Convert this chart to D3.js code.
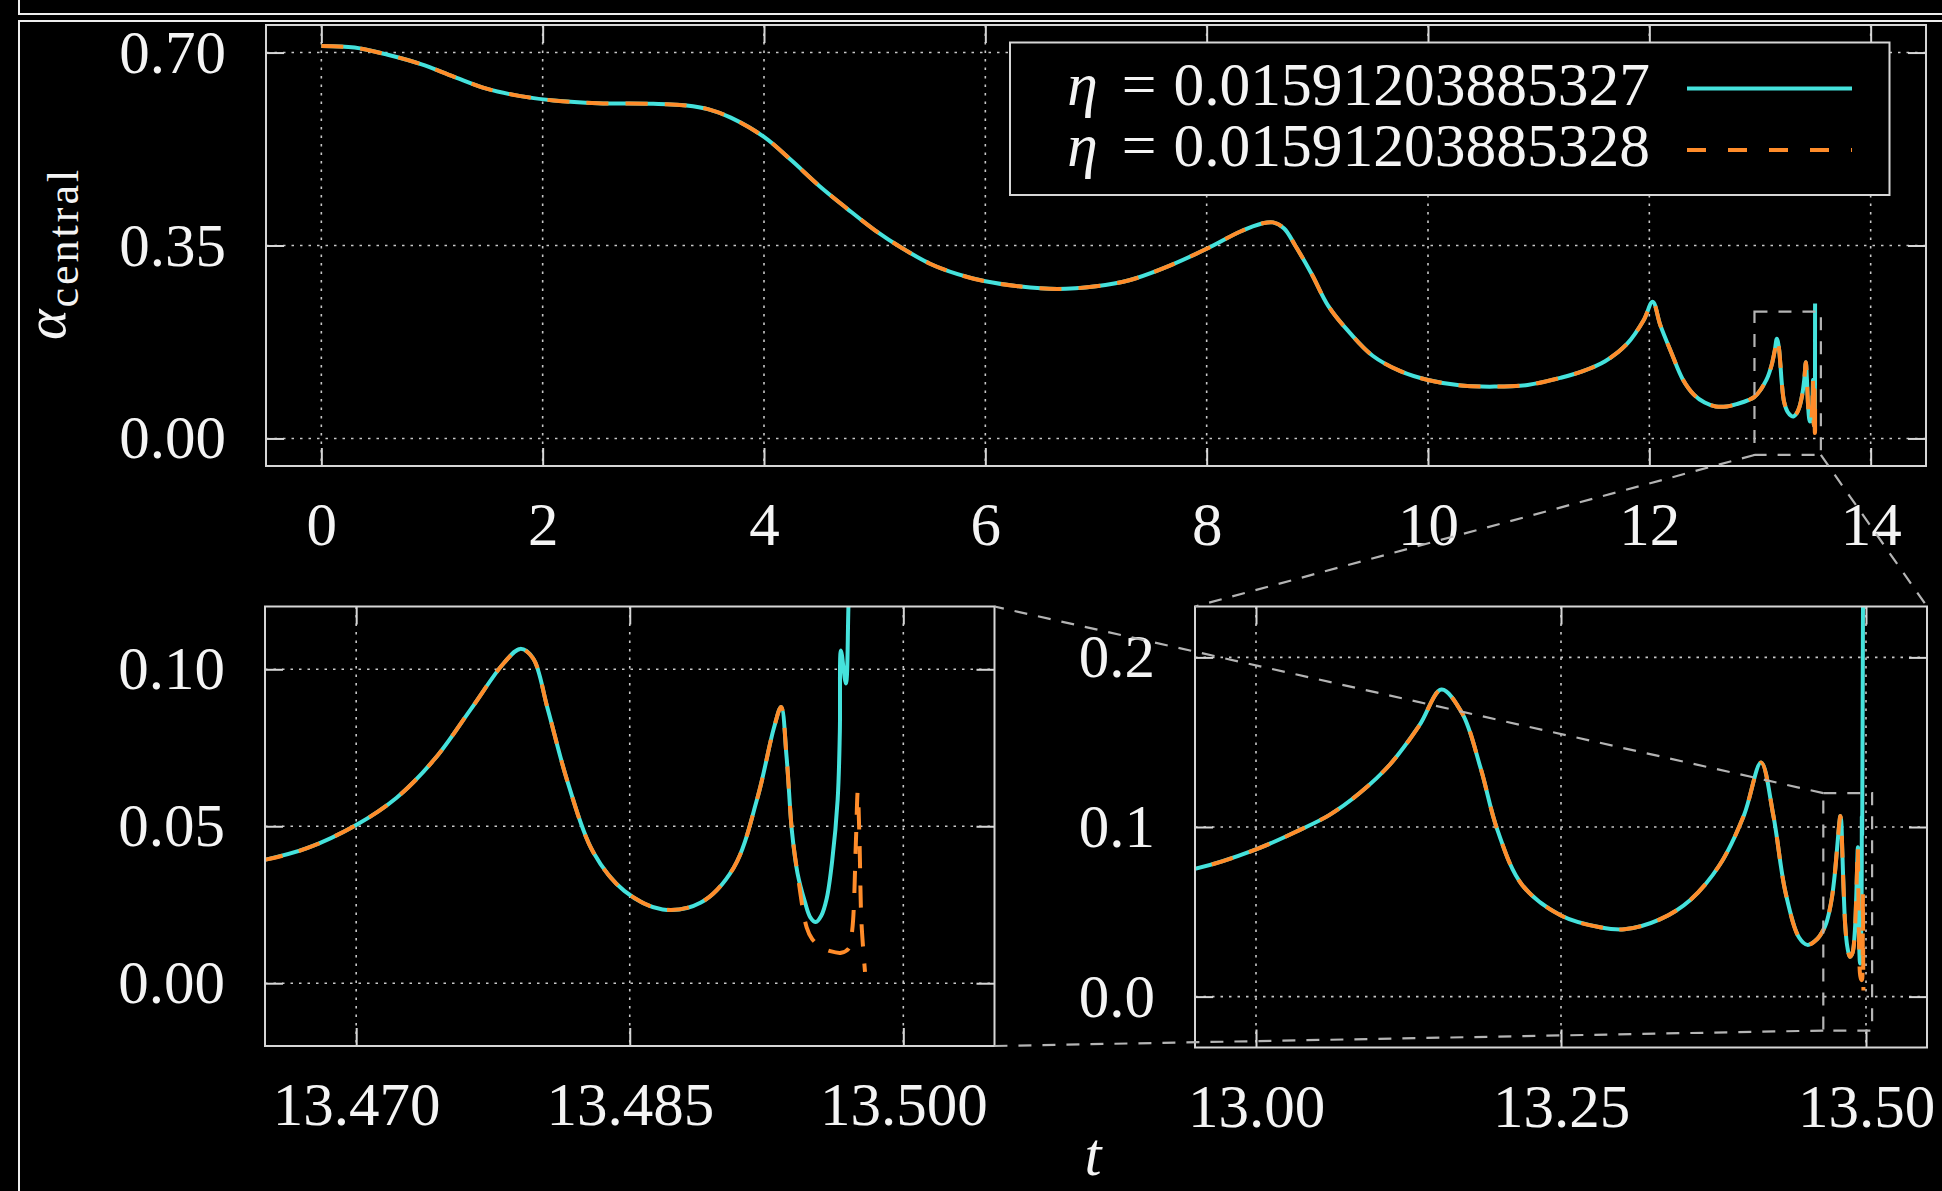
<!DOCTYPE html>
<html><head><meta charset="utf-8">
<script src="https://cdn.jsdelivr.net/npm/d3@7/dist/d3.min.js"></script>
<style>html,body{margin:0;padding:0;background:#000;}svg{display:block;}</style>
</head><body>
<svg id="chart" width="1942" height="1191"></svg>
<script>
// ---------- data ----------
const seriesNames = ["0.01591203885327", "0.01591203885328"];
// part shared by both runs (curves coincide)
const tShared = [0, 0.3, 0.6, 0.9, 1.2, 1.5, 1.8, 2.1, 2.5, 3.0, 3.3, 3.5, 3.7, 4.0, 4.25, 4.5, 4.75, 5.0, 5.25, 5.5,
  5.75, 6.0, 6.3, 6.65, 7.0, 7.3, 7.6, 8.0, 8.3, 8.5, 8.6, 8.7, 8.8, 8.95, 9.1, 9.3, 9.5, 9.75, 10.0, 10.3,
  10.6, 10.9, 11.2, 11.4, 11.6, 11.8, 11.95, 12.03, 12.1, 12.2, 12.3, 12.4, 12.5, 12.6, 12.7, 12.8, 12.9, 12.95, 13.0, 13.036,
  13.06, 13.085, 13.11, 13.134, 13.152, 13.169, 13.184, 13.198, 13.218, 13.25, 13.282, 13.302, 13.331, 13.356, 13.38, 13.40, 13.414, 13.424, 13.434, 13.445,
  13.452, 13.46, 13.465, 13.4673, 13.470, 13.4722, 13.4743, 13.4763, 13.4781, 13.479, 13.4797, 13.4805, 13.4816, 13.483, 13.4847, 13.4868, 13.4889, 13.4907, 13.492, 13.4929,
  13.4933, 13.4936, 13.4939, 13.4942];
const alphaShared = [0.712, 0.709, 0.696, 0.679, 0.656, 0.634, 0.621, 0.613, 0.608, 0.607, 0.604, 0.597, 0.582, 0.547, 0.504, 0.458, 0.417, 0.378, 0.345, 0.317,
  0.298, 0.285, 0.276, 0.271, 0.276, 0.287, 0.308, 0.344, 0.375, 0.39, 0.392, 0.381, 0.35, 0.298, 0.24, 0.19, 0.15, 0.122, 0.106, 0.096,
  0.094, 0.097, 0.11, 0.122, 0.14, 0.172, 0.215, 0.248, 0.205, 0.155, 0.108, 0.08, 0.065, 0.058, 0.058, 0.063, 0.07, 0.0753, 0.0868, 0.0983,
  0.107, 0.120, 0.137, 0.160, 0.181, 0.167, 0.135, 0.098, 0.066, 0.0478, 0.0409, 0.0397, 0.0455, 0.057, 0.0776, 0.107, 0.138, 0.107, 0.0615, 0.035,
  0.0305, 0.034, 0.0393, 0.043, 0.0504, 0.059, 0.0714, 0.0874, 0.102, 0.1065, 0.1035, 0.0874, 0.064, 0.0417, 0.0294, 0.0235, 0.0257, 0.0368, 0.059, 0.0812,
  0.088, 0.072, 0.048, 0.035];
// eta = ...327 (solid cyan) tail
const tTail327 = [13.4946, 13.4949, 13.4952, 13.4955, 13.4958, 13.4961, 13.4964, 13.49652, 13.49658, 13.49685, 13.4970, 13.4973, 13.4976];
const alphaTail327 = [0.026, 0.021, 0.0195, 0.0215, 0.027, 0.039, 0.0585, 0.08, 0.106, 0.0955, 0.122, 0.18, 0.245];
// eta = ...328 (dashed orange) tail
const tTail328 = [13.4947, 13.4950, 13.4955, 13.4960, 13.4966, 13.4970, 13.4972, 13.4974, 13.4975, 13.4976, 13.4977, 13.4979];
const alphaTail328 = [0.0178, 0.0141, 0.0115, 0.0102, 0.0097, 0.011, 0.017, 0.045, 0.061, 0.045, 0.02, 0.0036];

const mainXTicks = [0, 2, 4, 6, 8, 10, 12, 14];
const mainYTicks = [0, 0.35, 0.70];
const midXTicks = [13.00, 13.25, 13.50];
const midYTicks = [0, 0.1, 0.2];
const fineXTicks = [13.470, 13.485, 13.500];
const fineYTicks = [0, 0.05, 0.10];
const mainXDomain = [-0.5, 14.5], mainYDomain = [-0.05, 0.75];
const midXDomain = [12.95, 13.55], midYDomain = [-0.03, 0.23];
const fineXDomain = [13.465, 13.505], fineYDomain = [-0.02, 0.12];

// ---------- build ----------
const toPts = (ts, as) => ts.map((t, i) => ({t: t, a: as[i]}));
const shared = toPts(tShared, alphaShared);
const run327 = shared.concat(toPts(tTail327, alphaTail327));
const run328 = shared.concat(toPts(tTail328, alphaTail328));

const FONT = "'Liberation Serif', 'DejaVu Serif', serif";
const FS = 61;
const CYAN = "#45e2dc", ORANGE = "#ff8c2a";
const FRAME = "#d6d6d6", GRID = "#c8c8c8", ZOOMC = "#b4b4b4";
const svg = d3.select("#chart");
svg.append("rect").attr("width", 1942).attr("height", 1191).attr("fill", "#000");

// outer frames
svg.append("rect").attr("x", 19).attr("y", -20).attr("width", 2000).attr("height", 34)
  .attr("fill", "none").attr("stroke", "#eee").attr("stroke-width", 2);
svg.append("rect").attr("x", 19).attr("y", 21).attr("width", 2000).attr("height", 2000)
  .attr("fill", "none").attr("stroke", "#eee").attr("stroke-width", 2);

function panel(cfg) {
  const x = d3.scaleLinear().domain(cfg.xd).range([cfg.x0, cfg.x1]);
  const y = d3.scaleLinear().domain(cfg.yd).range([cfg.y1, cfg.y0]);
  const g = svg.append("g");
  const cid = "clip-" + cfg.id;
  svg.append("clipPath").attr("id", cid).append("rect")
    .attr("x", cfg.x0).attr("y", cfg.y0).attr("width", cfg.x1 - cfg.x0).attr("height", cfg.y1 - cfg.y0);
  // grid
  const grid = g.append("g").attr("stroke", GRID).attr("stroke-width", 1.6).attr("stroke-dasharray", "2.5,6");
  grid.selectAll("line.gx").data(cfg.xt).join("line").attr("class", "gx")
    .attr("x1", d => x(d)).attr("x2", d => x(d)).attr("y1", cfg.y0).attr("y2", cfg.y1);
  grid.selectAll("line.gy").data(cfg.yt).join("line").attr("class", "gy")
    .attr("y1", d => y(d)).attr("y2", d => y(d)).attr("x1", cfg.x0).attr("x2", cfg.x1);
  // curves
  const line = d3.line().x(d => x(d.t)).y(d => y(d.a)).curve(d3.curveCatmullRom.alpha(0.5));
  const cg = g.append("g").attr("clip-path", "url(#" + cid + ")");
  cg.append("path").datum(run327).attr("d", line).attr("fill", "none")
    .attr("stroke", CYAN).attr("stroke-width", 4).attr("stroke-linejoin", "round");
  cg.append("path").datum(run328).attr("d", line).attr("fill", "none")
    .attr("stroke", ORANGE).attr("stroke-width", 4).attr("stroke-dasharray", "22,17").attr("stroke-linejoin", "round");
  // axes (inward ticks on all sides)
  const styleAxis = (sel) => {
    sel.select(".domain").remove();
    sel.selectAll(".tick line").attr("stroke", FRAME).attr("stroke-width", 2);
    sel.selectAll(".tick text").attr("fill", "#f4f4f4").style("font-family", FONT).style("font-size", FS + "px");
  };
  g.append("g").attr("transform", `translate(0,${cfg.y1})`)
    .call(d3.axisBottom(x).tickValues(cfg.xt).tickFormat(cfg.xf).tickSize(-18).tickPadding(36)).call(styleAxis);
  g.append("g").attr("transform", `translate(0,${cfg.y0})`)
    .call(d3.axisTop(x).tickValues(cfg.xt).tickFormat("").tickSize(-18)).call(styleAxis);
  g.append("g").attr("transform", `translate(${cfg.x0},0)`)
    .call(d3.axisLeft(y).tickValues(cfg.yt).tickFormat(cfg.yf).tickSize(-18).tickPadding(40)).call(styleAxis);
  g.append("g").attr("transform", `translate(${cfg.x1},0)`)
    .call(d3.axisRight(y).tickValues(cfg.yt).tickFormat("").tickSize(-18)).call(styleAxis);
  g.append("rect").attr("x", cfg.x0).attr("y", cfg.y0).attr("width", cfg.x1 - cfg.x0).attr("height", cfg.y1 - cfg.y0)
    .attr("fill", "none").attr("stroke", FRAME).attr("stroke-width", 2);
  return {x, y, g};
}

const P1 = panel({id: "main", x0: 266, x1: 1926, y0: 25, y1: 466, xd: mainXDomain, yd: mainYDomain,
  xt: mainXTicks, yt: mainYTicks, xf: d3.format("d"), yf: d3.format(".2f")});
const P2 = panel({id: "fine", x0: 265, x1: 994.5, y0: 606.5, y1: 1046, xd: fineXDomain, yd: fineYDomain,
  xt: fineXTicks, yt: fineYTicks, xf: d3.format(".3f"), yf: d3.format(".2f")});
const P3 = panel({id: "mid", x0: 1195, x1: 1927, y0: 606.5, y1: 1047.5, xd: midXDomain, yd: midYDomain,
  xt: midXTicks, yt: midYTicks, xf: d3.format(".2f"), yf: d3.format(".1f")});

// legend
const leg = svg.append("g");
leg.append("rect").attr("x", 1010).attr("y", 42.5).attr("width", 879.5).attr("height", 152.5)
  .attr("fill", "#000").attr("stroke", FRAME).attr("stroke-width", 2);
const rows = [{name: seriesNames[0], y: 88.5, color: CYAN, dash: null},
              {name: seriesNames[1], y: 150, color: ORANGE, dash: "19,22"}];
rows.forEach(r => {
  const t = leg.append("text").attr("x", 1650).attr("y", r.y + 16).attr("text-anchor", "end")
    .attr("fill", "#f4f4f4").style("font-family", FONT).style("font-size", "61.5px");
  t.append("tspan").attr("font-style", "italic").text("η");
  t.append("tspan").attr("dx", 24).text("=");
  t.append("tspan").attr("dx", 17).text(r.name);
  leg.append("line").attr("x1", 1687).attr("x2", 1852).attr("y1", r.y).attr("y2", r.y)
    .attr("stroke", r.color).attr("stroke-width", 4).attr("stroke-dasharray", r.dash);
});

// zoom indicator rectangles and connectors
const zoomG = svg.append("g").attr("fill", "none").attr("stroke", ZOOMC).attr("stroke-width", 2.2)
  .attr("stroke-dasharray", "13,11");
const r1 = {x0: P1.x(midXDomain[0]), x1: P1.x(midXDomain[1]), y0: P1.y(midYDomain[1]), y1: P1.y(midYDomain[0])};
zoomG.append("rect").attr("x", r1.x0).attr("y", r1.y0).attr("width", r1.x1 - r1.x0).attr("height", r1.y1 - r1.y0);
const r2 = {x0: P3.x(fineXDomain[0]), x1: P3.x(fineXDomain[1]), y0: P3.y(fineYDomain[1]), y1: P3.y(fineYDomain[0])};
zoomG.append("rect").attr("x", r2.x0).attr("y", r2.y0).attr("width", r2.x1 - r2.x0).attr("height", r2.y1 - r2.y0);
const conn = [
  [r1.x0, r1.y1, 1195, 606.5],
  [r1.x1, r1.y1, 1927, 606.5],
  [r2.x0, r2.y0, 994.5, 606.5],
  [r2.x0, r2.y1, 994.5, 1046]
];
conn.forEach(c => zoomG.append("line").attr("x1", c[0]).attr("y1", c[1]).attr("x2", c[2]).attr("y2", c[3]));

// axis titles
svg.append("text").attr("x", 1093).attr("y", 1175).attr("text-anchor", "middle").attr("fill", "#f4f4f4")
  .attr("font-style", "italic").style("font-family", FONT).style("font-size", FS + "px").text("t");
const yl = svg.append("text").attr("transform", "translate(65,340) rotate(-90)").attr("fill", "#f4f4f4")
  .style("font-family", FONT);
yl.append("tspan").attr("font-style", "italic").style("font-size", "58px").text("α");
yl.append("tspan").attr("dy", 13).attr("dx", 2).style("font-size", "44px").style("letter-spacing", "3px").text("central");
</script>
</body></html>
